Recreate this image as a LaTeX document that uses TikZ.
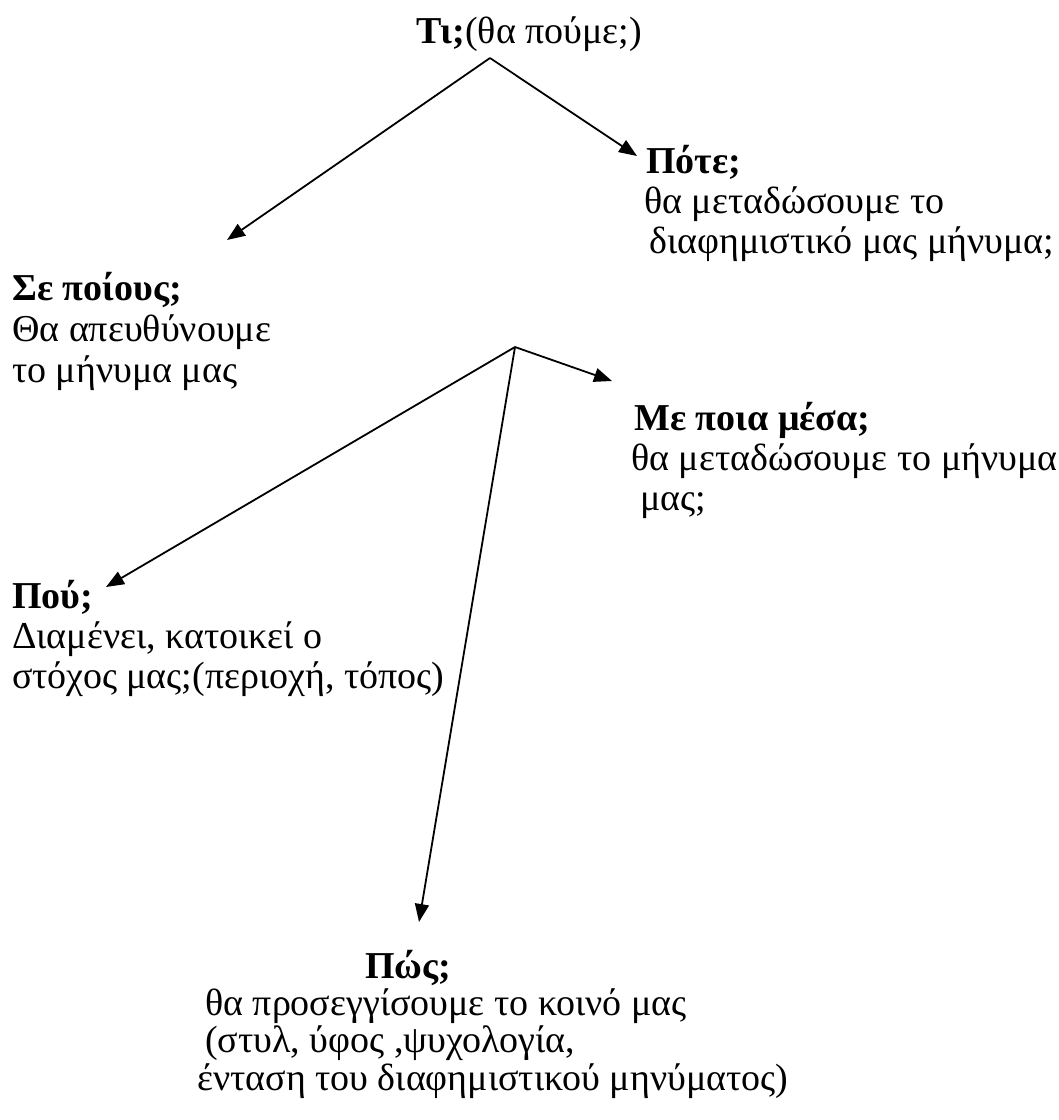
\documentclass[tikz,border=0pt]{standalone}
\usepackage{fontspec}
\setmainfont{Liberation Serif}
\usetikzlibrary{arrows.meta}
\begin{document}
\begin{tikzpicture}[x=1pt,y=-1pt,
  txt/.style={anchor=base west, inner sep=0pt, font=\fontsize{38}{40}\selectfont},
  hd/.style={anchor=base west, inner sep=0pt, font=\fontsize{38}{40}\selectfont\bfseries},
  arr/.style={-{Triangle[length=18pt,width=14pt]}, line width=1.8pt}]
\useasboundingbox (0,0) rectangle (1059,1120);
\fill[white] (0,0) rectangle (1059,1120);
% title
\node[txt] (ti) at (416,43) {\textbf{Τι;}(θα πούμε;)};
% Pote
\node[hd]  (pote)  at (646,173) {Πότε;};
\node[txt] (pote1) at (644,213) {θα μεταδώσουμε το};
\node[txt] (pote2) at (649,253) {διαφημιστικό μας μήνυμα;};
% Se poious
\node[hd]  (se)  at (12,300) {Σε ποίους;};
\node[txt] (se1) at (12,341) {Θα απευθύνουμε};
\node[txt] (se2) at (12,382) {το μήνυμα μας};
% Me poia mesa
\node[hd]  (me)  at (634,430) {Με ποια μέσα;};
\node[txt] (me1) at (631,470) {θα μεταδώσουμε το μήνυμα};
\node[txt] (me2) at (640,510) {μας;};
% Pou
\node[hd]  (pou)  at (12,608) {Πού;};
\node[txt] (pou1) at (12,648) {Διαμένει, κατοικεί ο};
\node[txt] (pou2) at (12,688) {στόχος μας;(περιοχή, τόπος)};
% Pos
\node[hd]  (pos)  at (365,978) {Πώς;};
\node[txt] (pos1) at (205,1015) {θα προσεγγίσουμε το κοινό μας};
\node[txt] (pos2) at (205,1052) {(στυλ, ύφος ,ψυχολογία,};
\node[txt] (pos3) at (197,1090) {ένταση του διαφημιστικού μηνύματος)};
% hubs and arrow ends
\coordinate (h1) at (490,58);
\coordinate (h2) at (515,347);
\coordinate (t1) at (637,156);
\coordinate (t2) at (227,240);
\coordinate (t3) at (612,381);
\coordinate (t4) at (106,587);
\coordinate (t5) at (419,922);
\draw[arr] (h1) -- (t1);
\draw[arr] (h1) -- (t2);
\draw[arr] (h2) -- (t3);
\draw[arr] (h2) -- (t4);
\draw[arr] (h2) -- (t5);
\end{tikzpicture}
\end{document}
